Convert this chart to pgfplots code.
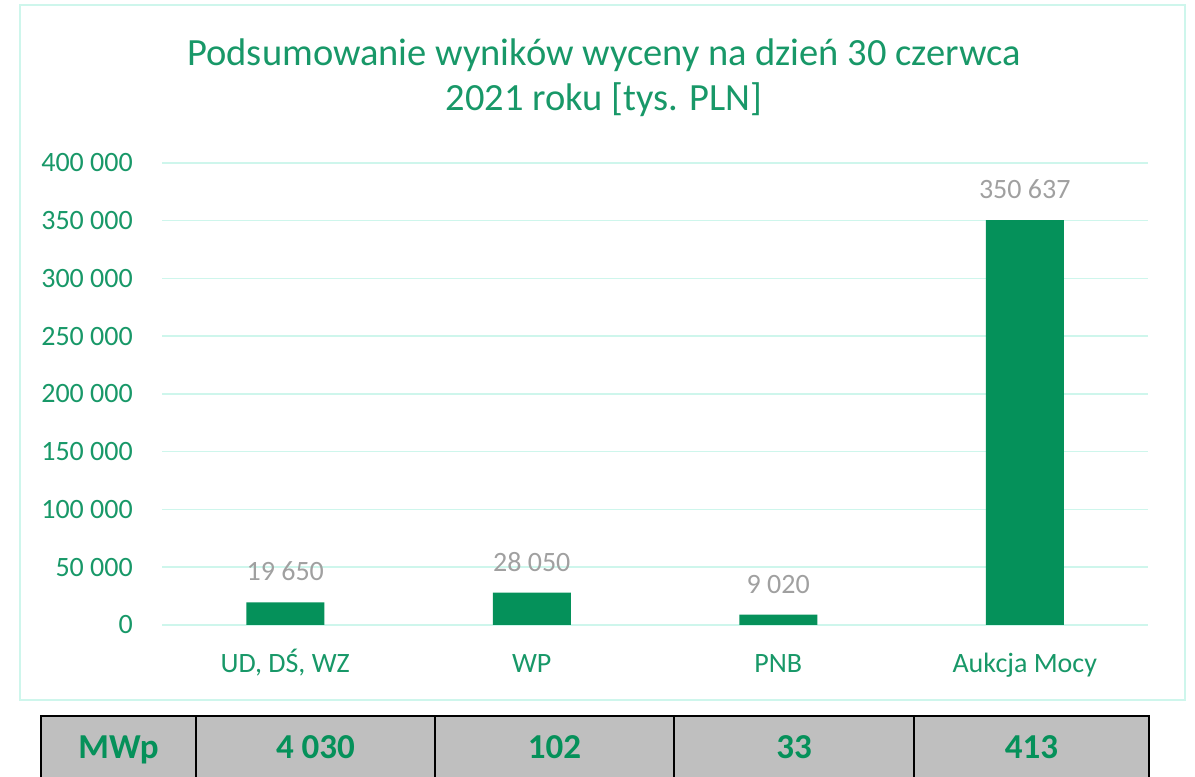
\documentclass[border=0pt]{standalone}
\usepackage{fontspec}
\setmainfont{Carlito}
\usepackage{pgfplots}
\pgfplotsset{compat=1.18}
\definecolor{bargreen}{RGB}{5,145,90}
\definecolor{txtgreen}{RGB}{24,152,104}
\definecolor{gridc}{RGB}{206,246,236}
\definecolor{valgray}{RGB}{160,160,160}
\definecolor{cellgray}{RGB}{191,191,191}

\begin{document}
\begin{tikzpicture}
\useasboundingbox (0pt,0pt) rectangle (1195pt,777pt);
\begin{scope}
\clip (0pt,0pt) rectangle (1195pt,777pt);
% chart frame
\draw[gridc, line width=1.5pt] (20pt,772pt) rectangle (1185pt,77pt);
% title
\node[txtgreen, anchor=base, inner sep=0pt, font=\fontsize{38.5}{42}\selectfont] at (604pt,711pt) {Podsumowanie wyników wyceny na dzień 30 czerwca};
\node[txtgreen, anchor=base, inner sep=0pt, font=\fontsize{38.5}{42}\selectfont] at (604pt,666pt) {2021 roku [tys. PLN]};

\begin{axis}[
    at={(162pt,152pt)}, anchor=south west,
    scale only axis,
    width=986pt, height=462pt,
    xmin=-0.5, xmax=3.5,
    ymin=0, ymax=400000,
    scaled y ticks=false,
    axis line style={draw=none},
    major tick length=0pt,
    ymajorgrids,
    grid style={gridc, line width=1.5pt},
    xtick={0,1,2,3},
    xticklabels={{UD, DŚ, WZ}, WP, PNB, Aukcja Mocy},
    ytick={0,50000,100000,150000,200000,250000,300000,350000,400000},
    yticklabels={0,50 000,100 000,150 000,200 000,250 000,300 000,350 000,400 000},
    yticklabel style={txtgreen, anchor=east, inner sep=0pt, xshift=-29pt, font=\fontsize{28}{30}\selectfont},
    xticklabel style={txtgreen, anchor=base, inner sep=0pt, yshift=-47pt, font=\fontsize{28}{30}\selectfont},
    ybar, bar width=78pt,
    point meta=explicit symbolic,
    nodes near coords,
    nodes near coords style={valgray, anchor=south, inner sep=0pt, yshift=21pt, font=\fontsize{28}{30}\selectfont},
    ]
\addplot[fill=bargreen, draw=none] coordinates {(0,19650) [19 650] (1,28050) [28 050] (2,9020) [9 020] (3,350637) [350 637]};
\end{axis}

% MWp table
\foreach \xa/\xb/\t in {41/196/MWp, 196/435/4 030, 435/674/102, 674/914/33, 914/1149/413} {
  \draw[black, line width=2pt, fill=cellgray] (\xa pt,61pt) rectangle (\xb pt,-20pt);
  \node[bargreen, anchor=base, inner sep=0pt, font=\fontsize{35}{38}\selectfont\bfseries] at ({(\xa+\xb)/2*1pt},19pt) {\t};
}
\end{scope}
\end{tikzpicture}
\end{document}
